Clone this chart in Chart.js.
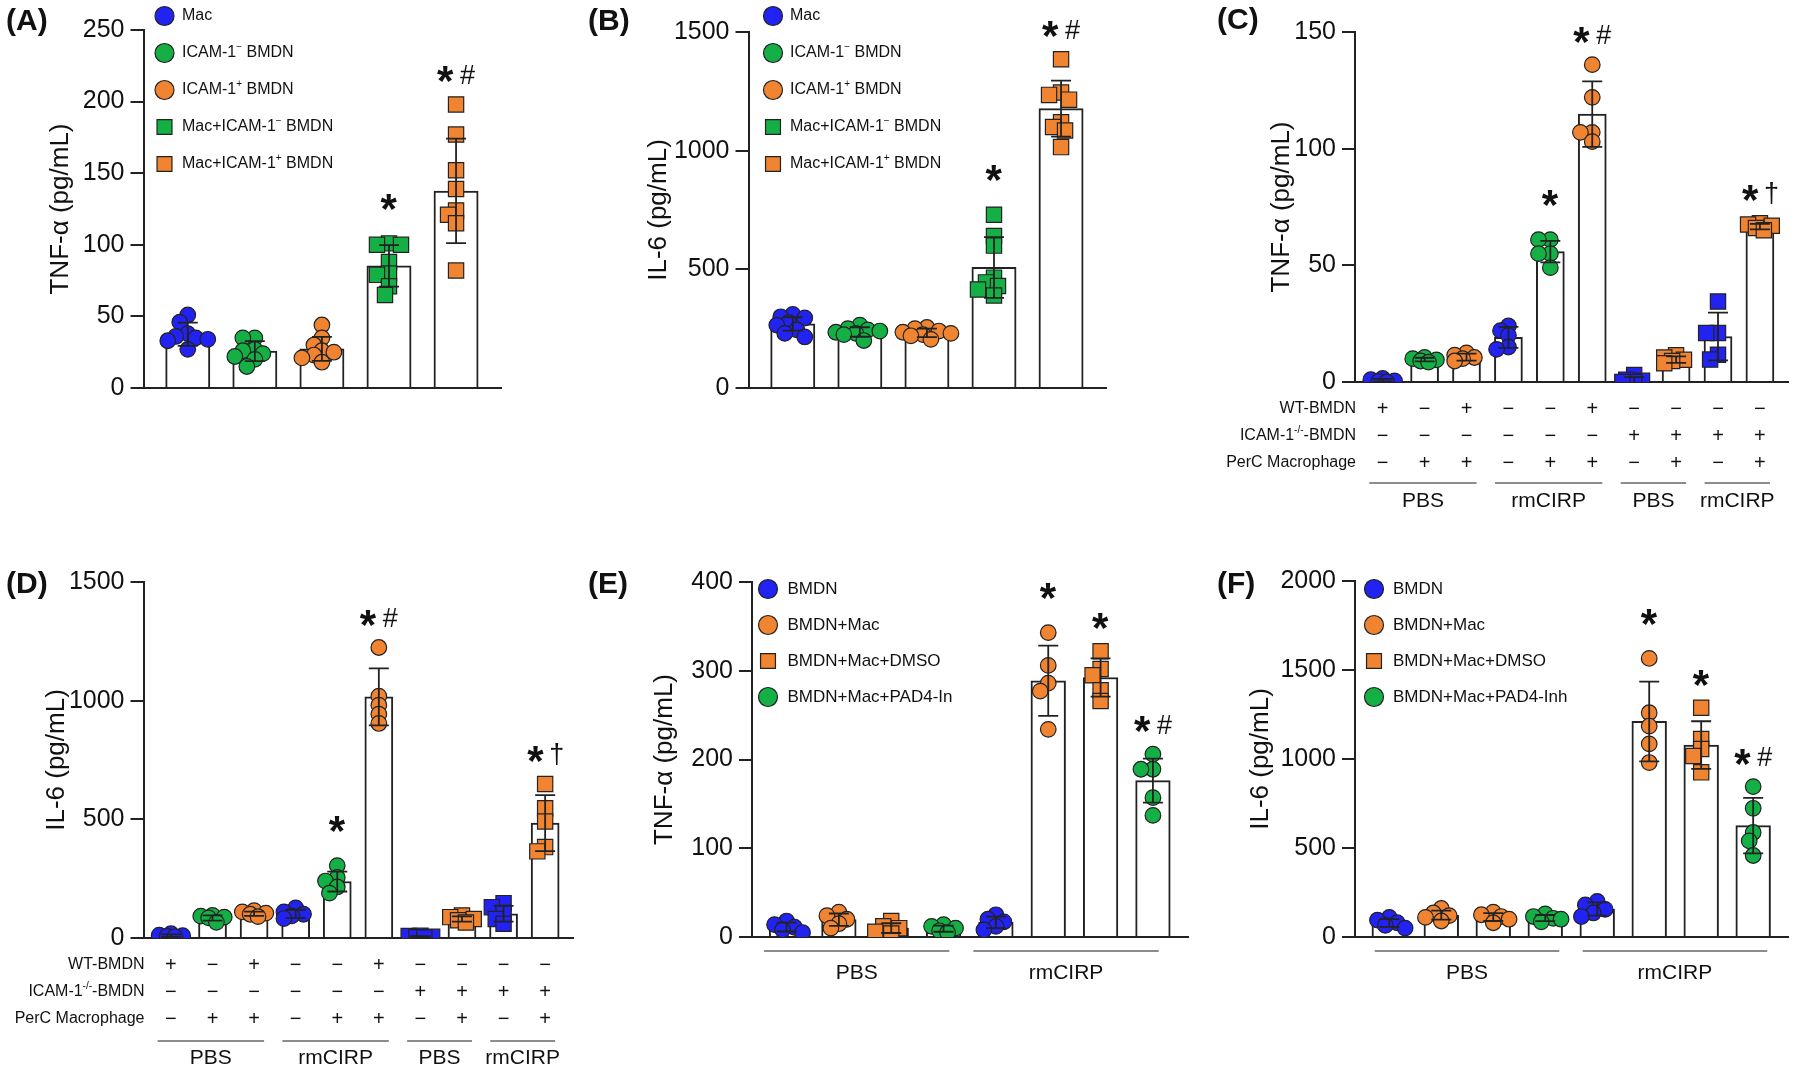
<!DOCTYPE html>
<html>
<head>
<meta charset="utf-8">
<script src="https://cdn.jsdelivr.net/npm/chart.js@4.4.1/dist/chart.umd.min.js"></script>
<style>
  body { margin: 0; background: #fff; width: 1800px; height: 1073px; position: relative; overflow: hidden; }
</style>
</head>
<body>
<script>
const FONT = '"Liberation Sans", Arial, sans-serif';
const BLUE = '#2222f2', GREEN = '#14b045', ORANGE = '#f08431';

// ---------- (A) TNF-α ----------
const legendA = ['Mac', 'ICAM-1^{−} BMDN', 'ICAM-1^{+} BMDN', 'Mac+ICAM-1^{−} BMDN', 'Mac+ICAM-1^{+} BMDN'];
const meanA = [37.5, 25.7, 27.3, 85.3, 137.6];
const sdA = [8.1, 7, 8.4, 14.5, 36.5];
const pointsA = [
  [51, 46, 38, 36, 35, 34, 33, 27],
  [35, 35, 27, 26, 24, 22, 20, 15],
  [44, 35, 30, 26, 25, 23, 21, 18],
  [101, 100, 100, 88, 80, 79, 71, 65],
  [198, 177, 152, 139, 124, 121, 115, 82]
];
const sigA = ['', '', '', '*', '*#'];

// ---------- (B) IL-6 ----------
const legendB = legendA;
const meanB = [270, 236, 232, 508, 1177];
const sdB = [28, 20, 18, 128, 118];
const pointsB = [
  [310, 300, 295, 275, 265, 245, 230, 215],
  [265, 250, 245, 240, 235, 230, 225, 200],
  [255, 250, 240, 235, 230, 225, 220, 205],
  [730, 640, 600, 465, 445, 430, 415, 390],
  [1385, 1245, 1235, 1215, 1120, 1100, 1085, 1015]
];
const sigB = ['', '', '', '*', '*#'];

// ---------- (C) TNF-α, WT vs ICAM-1-/- BMDN ----------
const meanC = [0.7, 9.6, 10.7, 19.1, 55.9, 114.8, 0.9, 9.6, 19.5, 66.6];
const sdC = [0.6, 0.8, 1.5, 4.5, 4.6, 14, 1.2, 1.4, 10.2, 1.2];
const pointsC = [
  [1.5, 1, 0.5, 0.3, 0],
  [10.5, 10, 9.5, 9, 8.5],
  [12.5, 11.5, 10.5, 10, 9],
  [24, 22, 20, 15, 14],
  [61, 61, 55, 55, 49],
  [136, 122, 107, 107, 103],
  [3, 1, 0.5, 0, 0],
  [11.5, 10.5, 9.5, 9, 8],
  [34.5, 21, 21, 11.7, 9.6],
  [68, 67.5, 67, 66, 65]
];
const sigC = ['', '', '', '', '*', '*#', '', '', '', '*†'];

// ---------- (D) IL-6, WT vs ICAM-1-/- BMDN ----------
const meanD = [10, 84, 102, 102, 238, 1016, 5, 80, 102, 484];
const sdD = [5, 11, 9, 17, 42, 120, 3, 11, 33, 118];
const pointsD = [
  [18, 12, 10, 8, 5],
  [95, 92, 88, 85, 66],
  [115, 110, 105, 100, 90],
  [127, 110, 100, 93, 82],
  [305, 255, 240, 215, 189],
  [1224, 1019, 981, 943, 904],
  [10, 8, 5, 3, 2],
  [95, 88, 80, 75, 65],
  [147, 130, 105, 80, 60],
  [649, 547, 491, 383, 365]
];
const sigD = ['', '', '', '', '*', '*#', '', '', '', '*†'];

// C and D share the condition table
const tableRows = ['WT-BMDN', 'ICAM-1^{-/-}-BMDN', 'PerC Macrophage'];
const wtBMDN   = ['+', '−', '+', '−', '−', '+', '−', '−', '−', '−'];
const koBMDN   = ['−', '−', '−', '−', '−', '−', '+', '+', '+', '+'];
const perCMac  = ['−', '+', '+', '−', '+', '+', '−', '+', '−', '+'];
const groupLabelsCD = ['PBS', 'rmCIRP', 'PBS', 'rmCIRP'];
const groupSpansCD = [[0, 2], [3, 5], [6, 7], [8, 9]];

// ---------- (E) TNF-α, PAD4 inhibition ----------
const legendE = ['BMDN', 'BMDN+Mac', 'BMDN+Mac+DMSO', 'BMDN+Mac+PAD4-In'];
const meanE = [11.2, 19.5, 10, 9.4, 16.5, 288.7, 292.4, 176.2];
const sdE = [5, 7, 5.5, 3.5, 6.5, 39.6, 21.6, 24.7];
const pointsE = [
  [18, 14, 11, 8, 5],
  [28, 24, 20, 15, 10],
  [18, 12, 10, 6, 4],
  [14, 12, 10, 7, 5],
  [25, 20, 17, 12, 8],
  [343, 306, 286, 277, 234],
  [322, 302, 295, 278, 266],
  [206, 189, 189, 157, 137]
];
const sigE = ['', '', '', '', '', '*', '*', '*#'];

// ---------- (F) IL-6, PAD4 inhibition ----------
const legendF = ['BMDN', 'BMDN+Mac', 'BMDN+Mac+DMSO', 'BMDN+Mac+PAD4-Inh'];
const meanF = [78.5, 123, 112, 106.5, 157, 1211, 1078, 626];
const sdF = [22, 25, 22, 17, 37, 224, 134, 156];
const pointsF = [
  [110, 95, 80, 65, 50],
  [160, 135, 120, 110, 90],
  [140, 125, 115, 100, 80],
  [130, 115, 105, 100, 85],
  [200, 180, 155, 135, 115],
  [1565, 1260, 1185, 1085, 980],
  [1288, 1112, 1056, 1017, 925],
  [845, 723, 587, 540, 458]
];
const sigF = ['', '', '', '', '', '*', '*', '*#'];
const groupLabelsEF = ['PBS', 'rmCIRP'];
const groupSpansEF = [[0, 3], [4, 7]];

Chart.defaults.font.family = FONT;
Chart.defaults.color = '#111';

// split "ICAM-1^{-/-}-BMDN" into normal / superscript pieces
function parseRich(s) {
  const parts = [];
  const re = /\^\{([^}]*)\}/g;
  let last = 0, m;
  while ((m = re.exec(s))) {
    if (m.index > last) parts.push({ t: s.slice(last, m.index) });
    parts.push({ t: m[1], sup: true });
    last = re.lastIndex;
  }
  if (last < s.length) parts.push({ t: s.slice(last) });
  return parts;
}

function drawRich(ctx, s, x, y, size, align) {
  const parts = parseRich(s);
  const fMain = size + 'px ' + FONT, fSup = Math.round(size * 0.62) + 'px ' + FONT;
  let w = 0;
  parts.forEach(p => { ctx.font = p.sup ? fSup : fMain; p.w = ctx.measureText(p.t).width; w += p.w; });
  let cx = align === 'right' ? x - w : align === 'center' ? x - w / 2 : x;
  ctx.textAlign = 'left';
  ctx.textBaseline = 'middle';
  parts.forEach(p => {
    ctx.font = p.sup ? fSup : fMain;
    ctx.fillText(p.t, cx, p.sup ? y - size * 0.35 : y);
    cx += p.w;
  });
}

// "*", "*#", "*†" centred on (cx, cy)
function drawSig(ctx, label, cx, cy) {
  const gl = [...label].map(ch => {
    ctx.font = ch === '*' ? 'bold 42px ' + FONT : '27px ' + FONT;
    const m = ctx.measureText(ch);
    return { ch, font: ctx.font, m, w: m.actualBoundingBoxLeft + m.actualBoundingBoxRight };
  });
  const gap = 6;
  let total = gl.reduce((a, g) => a + g.w, 0) + gap * (gl.length - 1);
  let x = cx - total / 2;
  ctx.textAlign = 'left';
  ctx.textBaseline = 'alphabetic';
  ctx.fillStyle = '#111';
  gl.forEach(g => {
    ctx.font = g.font;
    ctx.fillText(g.ch, x + g.m.actualBoundingBoxLeft, cy + (g.m.actualBoundingBoxAscent - g.m.actualBoundingBoxDescent) / 2);
    x += g.w + gap;
  });
}

function drawMarker(ctx, shape, color, x, y, r) {
  ctx.beginPath();
  if (shape === 'rect') ctx.rect(x - r * 0.83, y - r * 0.83, r * 1.66, r * 1.66);
  else ctx.arc(x, y, r, 0, Math.PI * 2);
  ctx.fillStyle = color;
  ctx.fill();
  ctx.lineWidth = 1.2;
  ctx.strokeStyle = '#222';
  ctx.stroke();
}

// simple beeswarm: pixel offsets so dots do not sit exactly on each other
function swarm(vals, pxY, dmin, step, maxOff) {
  const placed = [];
  return vals.map(v => {
    const y = v * pxY;
    let best = 0, bestD = -1;
    for (let k = 0; k < 60; k++) {
      const o = k === 0 ? 0 : (k % 2 ? -1 : 1) * Math.ceil(k / 2) * step;
      if (Math.abs(o) > maxOff) break;
      let d = Infinity;
      placed.forEach(p => { d = Math.min(d, Math.hypot(o - p.o, y - p.y)); });
      if (d >= dmin) { best = o; bestD = d; break; }
      if (d > bestD) { bestD = d; best = o; }
    }
    placed.push({ o: best, y });
    return best;
  });
}

function makePanel(geo, cfg) {
  const [L, T, W, H] = geo.box;
  const canvas = document.createElement('canvas');
  canvas.width = W; canvas.height = H;
  canvas.style.cssText = `position:absolute;left:${L}px;top:${T}px;width:${W}px;height:${H}px`;
  document.body.appendChild(canvas);

  const n = cfg.means.length;
  const xMin = -0.66, xMax = n - 0.33;
  const pxX = (geo.xEnd - geo.axisX) / (xMax - xMin);
  const pxY = (geo.y0 - geo.yTop) / cfg.yMax;
  const barW = 0.66 * pxX;

  const datasets = [{
    type: 'bar',
    data: cfg.means.map((m, i) => ({ x: i, y: m })),
    backgroundColor: '#fff',
    borderColor: '#222',
    borderWidth: 2,
    barThickness: barW,
    order: 3
  }];
  cfg.points.forEach((vals, i) => {
    const offs = swarm(vals, pxY, 9, 4, barW * 0.55);
    const rect = cfg.shapes[i] === 'rect';
    datasets.push({
      type: 'scatter',
      data: vals.map((v, j) => ({ x: i + offs[j] / pxX, y: v })),
      pointStyle: cfg.shapes[i],
      pointRadius: rect ? 10.8 : 7.8,
      backgroundColor: cfg.colors[i],
      borderColor: '#222',
      borderWidth: 1.2,
      order: 1
    });
  });

  const deco = {
    id: 'deco',
    afterDatasetsDraw(chart) {
      const { ctx, scales: { x, y } } = chart;
      ctx.save();
      ctx.strokeStyle = '#222';
      ctx.lineWidth = 1.8;
      cfg.means.forEach((m, i) => {
        const px = x.getPixelForValue(i);
        const top = y.getPixelForValue(m + cfg.sd[i]);
        const bot = y.getPixelForValue(Math.max(0, m - cfg.sd[i]));
        ctx.beginPath();
        ctx.moveTo(px, top); ctx.lineTo(px, bot);
        ctx.moveTo(px - 10, top); ctx.lineTo(px + 10, top);
        if (m - cfg.sd[i] > 0) { ctx.moveTo(px - 10, bot); ctx.lineTo(px + 10, bot); }
        ctx.stroke();
      });
      ctx.restore();
    },
    afterDraw(chart) {
      const { ctx, scales: { x, y } } = chart;
      ctx.save();
      ctx.fillStyle = '#111';

      // panel letter
      ctx.font = 'bold 30px ' + FONT;
      ctx.textAlign = 'left';
      ctx.textBaseline = 'middle';
      ctx.fillText(cfg.letter, geo.letter[0] - L, geo.letter[1] - T);

      // significance marks
      cfg.sig.forEach((s, i) => {
        if (!s) return;
        const hi = Math.max(Math.max(...cfg.points[i]), cfg.means[i] + cfg.sd[i]);
        drawSig(ctx, s, x.getPixelForValue(i), y.getPixelForValue(hi) - 30);
      });

      // legend
      if (cfg.legend) {
        const lg = cfg.legend;
        lg.items.forEach((t, k) => {
          const ly = lg.y + lg.dy * k - T;
          drawMarker(ctx, lg.shapes[k], lg.colors[k], lg.x - L, ly, lg.shapes[k] === 'rect' ? 9 : 9.5);
          ctx.fillStyle = '#111';
          drawRich(ctx, t, lg.tx - L, ly, lg.size, 'left');
        });
      }

      // condition table
      if (cfg.table) {
        const tb = cfg.table;
        tb.rows.forEach((r, k) => {
          const ry = geo.y0 - T + 27 + 27 * k;
          ctx.fillStyle = '#111';
          drawRich(ctx, r, geo.axisX + 1 - L, ry, 16, 'right');
          ctx.font = '20px ' + FONT;
          ctx.textAlign = 'center';
          ctx.textBaseline = 'middle';
          tb.signs[k].forEach((sg, i) => ctx.fillText(sg, x.getPixelForValue(i), ry));
        });
      }

      // group brackets
      const gp = cfg.groups;
      gp.spans.forEach((sp, k) => {
        const x1 = x.getPixelForValue(sp[0] + gp.ext[0]);
        const x2 = x.getPixelForValue(sp[1] + gp.ext[1]);
        const ly = geo.y0 - T + gp.lineDy;
        ctx.beginPath();
        ctx.moveTo(x1, ly); ctx.lineTo(x2, ly);
        ctx.strokeStyle = '#666';
        ctx.lineWidth = 1.5;
        ctx.stroke();
        ctx.fillStyle = '#111';
        ctx.font = '21px ' + FONT;
        ctx.textAlign = 'center';
        ctx.textBaseline = 'middle';
        ctx.fillText(gp.labels[k], (x1 + x2) / 2, geo.y0 - T + gp.labelDy);
      });
      ctx.restore();
    }
  };

  return new Chart(canvas, {
    type: 'bar',
    data: { datasets },
    options: {
      responsive: false,
      animation: false,
      events: [],
      layout: { padding: { left: 0, top: geo.yTop - T, right: L + W - geo.xEnd, bottom: 0 } },
      plugins: { legend: { display: false }, tooltip: { enabled: false } },
      scales: {
        x: {
          type: 'linear', min: xMin, max: xMax, offset: false,
          ticks: { display: false },
          grid: { display: false },
          border: { display: true, width: 2, color: '#222' },
          afterFit: s => { s.height = T + H - geo.y0; }
        },
        y: {
          type: 'linear', min: 0, max: cfg.yMax,
          ticks: { stepSize: cfg.step, padding: 6, color: '#111', font: { size: 25 }, callback: v => String(v) },
          grid: { display: true, drawOnChartArea: false, drawTicks: true, tickLength: 13, lineWidth: 2, color: '#222' },
          border: { display: true, width: 2, color: '#222' },
          title: {
            display: true, text: cfg.yTitle, color: '#111', font: { size: 26 },
            padding: { top: geo.titleX - L - 15.6, bottom: 0 }
          },
          afterFit: s => { s.width = geo.axisX - L; }
        }
      }
    },
    plugins: [deco]
  });
}

const shapesAB = ['circle', 'circle', 'circle', 'rect', 'rect'];
const colorsAB = [BLUE, GREEN, ORANGE, GREEN, ORANGE];
const shapesCD = ['circle', 'circle', 'circle', 'circle', 'circle', 'circle', 'rect', 'rect', 'rect', 'rect'];
const colorsCD = [BLUE, GREEN, ORANGE, BLUE, GREEN, ORANGE, BLUE, ORANGE, BLUE, ORANGE];
const colorsEF = [BLUE, ORANGE, ORANGE, GREEN, BLUE, ORANGE, ORANGE, GREEN];
const tableCD = { rows: tableRows, signs: [wtBMDN, koBMDN, perCMac] };
const groupsCD = { spans: groupSpansCD, labels: groupLabelsCD, ext: [-0.32, 0.24], lineDy: 101, labelDy: 119 };

makePanel(
  { box: [0, 0, 580, 560], axisX: 143.5, xEnd: 501, yTop: 30, y0: 388, titleX: 61, letter: [6, 22] },
  { letter: '(A)', yTitle: 'TNF-α (pg/mL)', yMax: 250, step: 50, means: meanA, sd: sdA, points: pointsA,
    shapes: shapesAB, colors: colorsAB, sig: sigA,
    legend: { items: legendA, shapes: shapesAB, colors: colorsAB, x: 164.5, tx: 182, y: 16, dy: 37, size: 16 },
    groups: { spans: [], labels: [], ext: [0, 0], lineDy: 0, labelDy: 0 } });

makePanel(
  { box: [580, 0, 620, 560], axisX: 748.5, xEnd: 1106, yTop: 32, y0: 388, titleX: 659, letter: [588, 22] },
  { letter: '(B)', yTitle: 'IL-6 (pg/mL)', yMax: 1500, step: 500, means: meanB, sd: sdB, points: pointsB,
    shapes: shapesAB, colors: colorsAB, sig: sigB,
    legend: { items: legendB, shapes: shapesAB, colors: colorsAB, x: 773, tx: 790, y: 16, dy: 37, size: 16 },
    groups: { spans: [], labels: [], ext: [0, 0], lineDy: 0, labelDy: 0 } });

makePanel(
  { box: [1200, 0, 600, 560], axisX: 1355, xEnd: 1794, yTop: 32, y0: 382, titleX: 1282, letter: [1217, 21] },
  { letter: '(C)', yTitle: 'TNF-α (pg/mL)', yMax: 150, step: 50, means: meanC, sd: sdC, points: pointsC,
    shapes: shapesCD, colors: colorsCD, sig: sigC, table: tableCD, groups: groupsCD });

makePanel(
  { box: [0, 560, 585, 513], axisX: 143.5, xEnd: 582.5, yTop: 582, y0: 938, titleX: 57, letter: [6, 585] },
  { letter: '(D)', yTitle: 'IL-6 (pg/mL)', yMax: 1500, step: 500, means: meanD, sd: sdD, points: pointsD,
    shapes: shapesCD, colors: colorsCD, sig: sigD, table: tableCD,
    groups: Object.assign({}, groupsCD, { lineDy: 103, labelDy: 120 }) });

makePanel(
  { box: [585, 560, 615, 513], axisX: 752, xEnd: 1189, yTop: 582, y0: 937, titleX: 665, letter: [588, 585] },
  { letter: '(E)', yTitle: 'TNF-α (pg/mL)', yMax: 400, step: 100, means: meanE, sd: sdE, points: pointsE,
    shapes: ['circle', 'circle', 'rect', 'circle', 'circle', 'circle', 'rect', 'circle'], colors: colorsEF, sig: sigE,
    legend: { items: legendE, shapes: ['circle', 'circle', 'rect', 'circle'], colors: [BLUE, ORANGE, ORANGE, GREEN],
              x: 768, tx: 787.5, y: 589, dy: 36, size: 17 },
    groups: { spans: groupSpansEF, labels: groupLabelsEF, ext: [-0.43, 0.11], lineDy: 14, labelDy: 36 } });

makePanel(
  { box: [1200, 560, 600, 513], axisX: 1355, xEnd: 1793, yTop: 581, y0: 937, titleX: 1261, letter: [1217, 585] },
  { letter: '(F)', yTitle: 'IL-6 (pg/mL)', yMax: 2000, step: 500, means: meanF, sd: sdF, points: pointsF,
    shapes: ['circle', 'circle', 'circle', 'circle', 'circle', 'circle', 'rect', 'circle'], colors: colorsEF, sig: sigF,
    legend: { items: legendF, shapes: ['circle', 'circle', 'rect', 'circle'], colors: [BLUE, ORANGE, ORANGE, GREEN],
              x: 1374, tx: 1393, y: 589, dy: 36, size: 17 },
    groups: { spans: groupSpansEF, labels: groupLabelsEF, ext: [-0.28, 0.27], lineDy: 14, labelDy: 36 } });
</script>
</body>
</html>
